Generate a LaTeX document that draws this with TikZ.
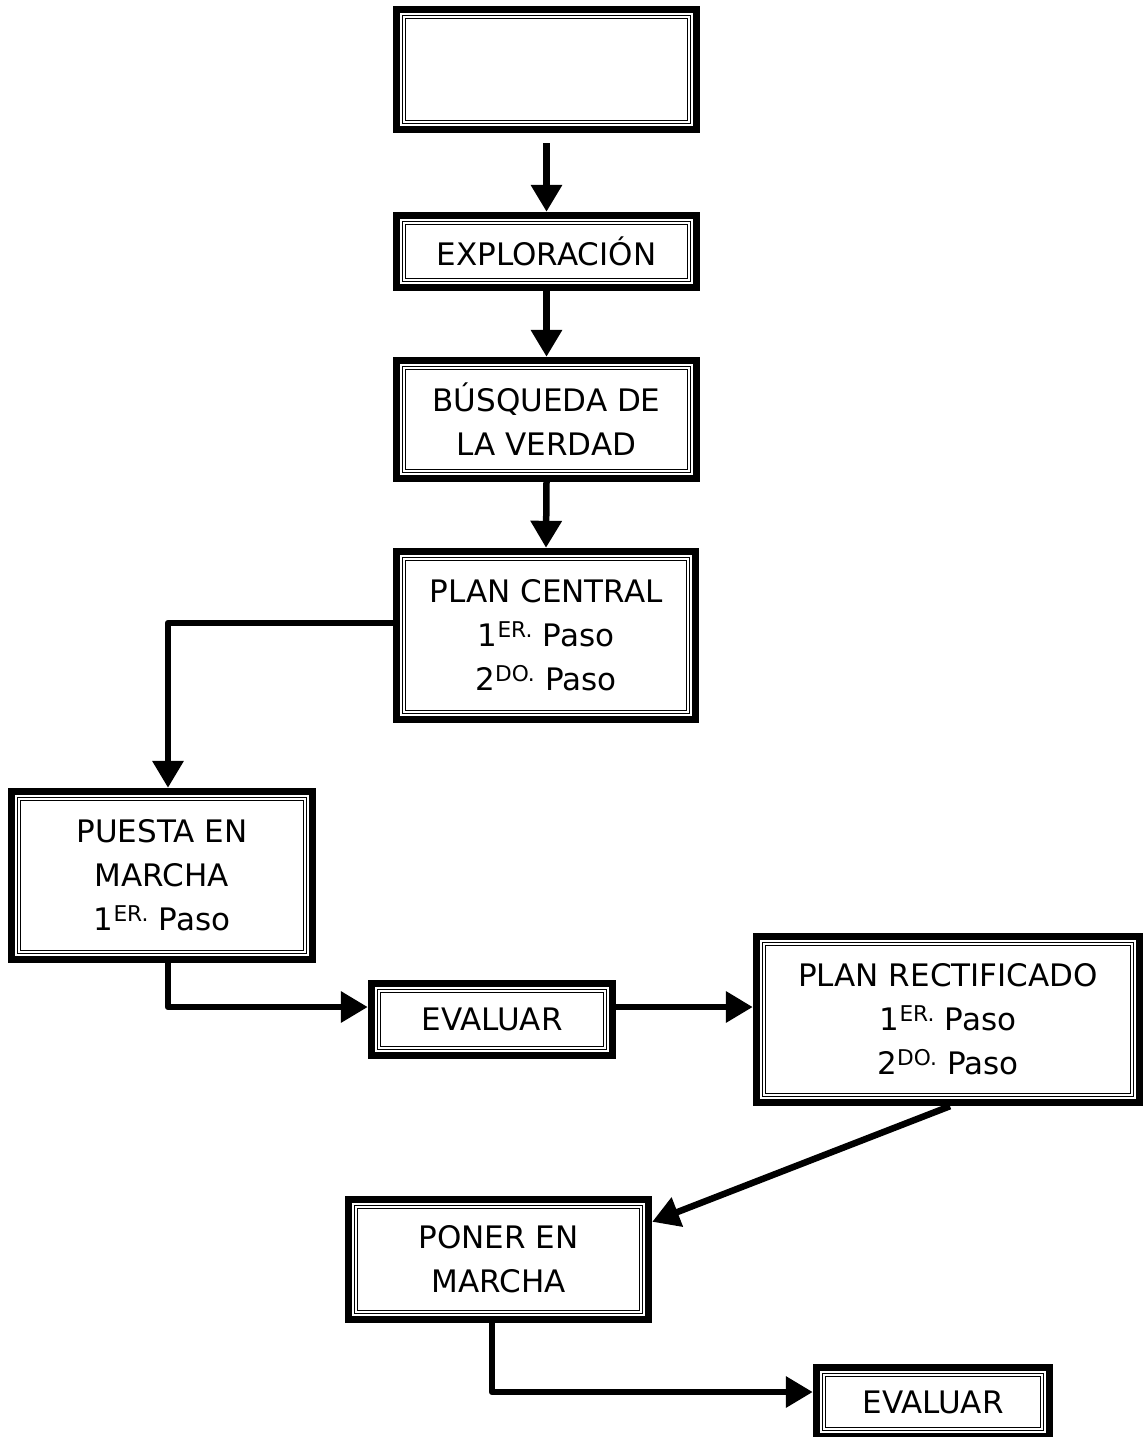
\documentclass[tikz,border=0pt]{standalone}
\usepackage{fontspec}
\setmainfont{DejaVu Sans}
\usetikzlibrary{arrows.meta,calc}
\newcommand\tribox[1]{%
  \draw[line width=7pt] ([shift={(3.5pt,3.5pt)}]#1.south west) rectangle ([shift={(-3.5pt,-3.5pt)}]#1.north east);
  \draw[line width=1.3pt] ([shift={(10pt,10pt)}]#1.south west) rectangle ([shift={(-10pt,-10pt)}]#1.north east);
  \draw[line width=0.9pt] ([shift={(13pt,13pt)}]#1.south west) rectangle ([shift={(-13pt,-13pt)}]#1.north east);
}
\begin{document}
\begin{tikzpicture}[x=1pt,y=-1pt,
  boxnode/.style={draw=none,inner sep=0pt,align=center,
    font=\fontsize{31}{44}\selectfont},
  arr/.style={line width=6.5pt,line join=round,-{Triangle[width=30pt,length=27pt]}}]
\useasboundingbox (0,0) rectangle (1144,1437);
\node[boxnode,minimum width=307pt,minimum height=127pt] (top) at (546.5,69.5) {};
\node[boxnode,minimum width=307pt,minimum height=79pt] (expl) at (546.5,251.5) {EXPLORACIÓN};
\node[boxnode,minimum width=307pt,minimum height=125pt] (busq) at (546.5,419.5) {BÚSQUEDA DE\\LA VERDAD};
\node[boxnode,minimum width=306pt,minimum height=175pt] (pc) at (546,635.5) {PLAN CENTRAL\\1\textsuperscript{ER.} Paso\\2\textsuperscript{DO.} Paso};
\node[boxnode,minimum width=308pt,minimum height=175pt] (pm) at (162,875.5) {PUESTA EN\\MARCHA\\1\textsuperscript{ER.} Paso};
\node[boxnode,minimum width=248pt,minimum height=79pt] (ev1) at (492,1019.5) {EVALUAR};
\node[boxnode,minimum width=390pt,minimum height=173pt] (pr) at (948,1019.5) {PLAN RECTIFICADO\\1\textsuperscript{ER.} Paso\\2\textsuperscript{DO.} Paso};
\node[boxnode,minimum width=307pt,minimum height=127pt] (pon) at (498.5,1259.5) {PONER EN\\MARCHA};
\node[boxnode,minimum width=240pt,minimum height=76pt] (ev2) at (933,1402) {EVALUAR};
\tribox{top}\tribox{expl}\tribox{busq}\tribox{pc}\tribox{pm}
\tribox{ev1}\tribox{pr}\tribox{pon}\tribox{ev2}
\draw[arr] ([yshift=-10pt]top.south) -- (expl.north);
\draw[arr] (expl.south) -- (busq.north);
\draw[arr] (busq.south) -- (pc.north);
\draw[arr] ([yshift=12.5pt]pc.west) -| ([xshift=6pt]pm.north);
\draw[arr] ([xshift=6pt]pm.south) |- ([yshift=12.5pt]ev1.west);
\draw[arr] ([yshift=12.5pt]ev1.east) -- ([yshift=12.5pt]pr.west);
\draw[arr] ([xshift=2pt]pr.south) -- ([yshift=-26pt]pon.north east);
\draw[arr] ([xshift=-6.5pt]pon.south) |- ([yshift=10pt]ev2.west);
\end{tikzpicture}
\end{document}
